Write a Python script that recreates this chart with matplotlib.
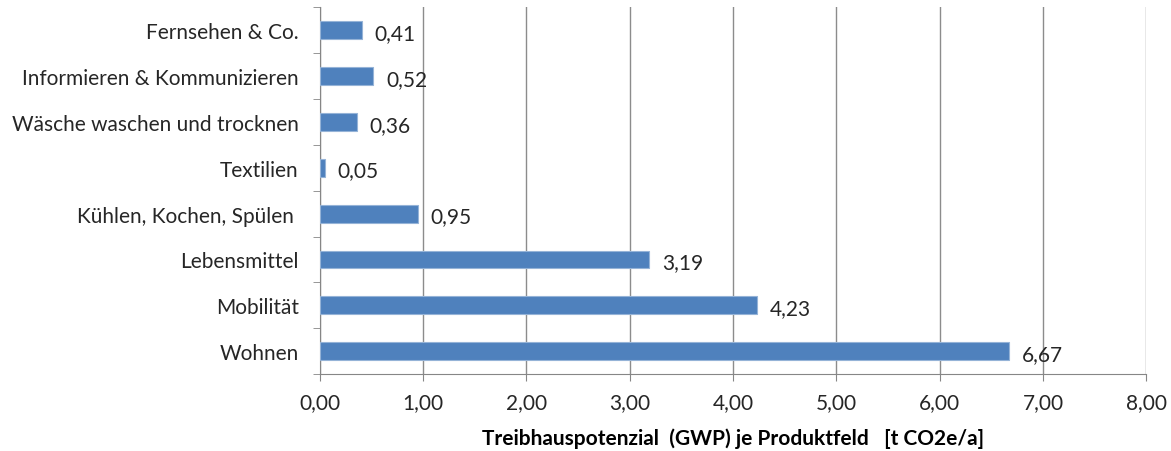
import numpy as np
from matplotlib import pyplot as plt

categories = ['Fernsehen & Co.', 'Informieren & Kommunizieren', 'Wäsche waschen und trocknen',
              'Textilien', 'Kühlen, Kochen, Spülen ', 'Lebensmittel', 'Mobilität', 'Wohnen']
values = [0.41, 0.52, 0.36, 0.05, 0.95, 3.19, 4.23, 6.67]
xticks = [0, 1, 2, 3, 4, 5, 6, 7, 8]

plt.rcParams['font.family'] = ['Lato', 'DejaVu Sans']

fig = plt.figure(figsize=(11.71, 4.52), dpi=100)
ax = fig.add_axes([0.273, 0.170, 0.706, 0.812])

y = np.arange(len(categories))
ax.barh(y, values, height=0.39, color='#4F81BD', edgecolor='#95B3D7', linewidth=0.8, zorder=3)

for yi, v in zip(y, values):
    ax.annotate('{:.2f}'.format(v).replace('.', ','), (v, yi), xytext=(9, -2),
                textcoords='offset points', va='center', ha='left', fontsize=15, color='#262626')

ax.set_ylim(len(categories) - 0.5, -0.5)
ax.set_xlim(0, 8)
ax.set_yticks(y)
ax.set_yticklabels(categories)
ax.set_yticks(np.arange(-0.5, len(categories)), minor=True)
ax.tick_params(axis='y', which='major', length=0, pad=15, labelsize=15, labelcolor='#262626')
ax.tick_params(axis='y', which='minor', length=5, color='#868686')

ax.set_xticks(xticks)
ax.set_xticklabels(['{:.2f}'.format(t).replace('.', ',') for t in xticks])
ax.tick_params(axis='x', length=5, color='#868686', pad=8, labelsize=15, labelcolor='#262626')
ax.grid(axis='x', color='#8c8c8c', linewidth=1, zorder=0)

for s in ['top', 'right']:
    ax.spines[s].set_visible(False)
for s in ['left', 'bottom']:
    ax.spines[s].set_color('#868686')

ax.set_xlabel('Treibhauspotenzial  (GWP) je Produktfeld   [t CO2e/a]', fontsize=15,
              fontweight='bold', color='#000000', labelpad=11)

fig.savefig('out.png', dpi=100)
